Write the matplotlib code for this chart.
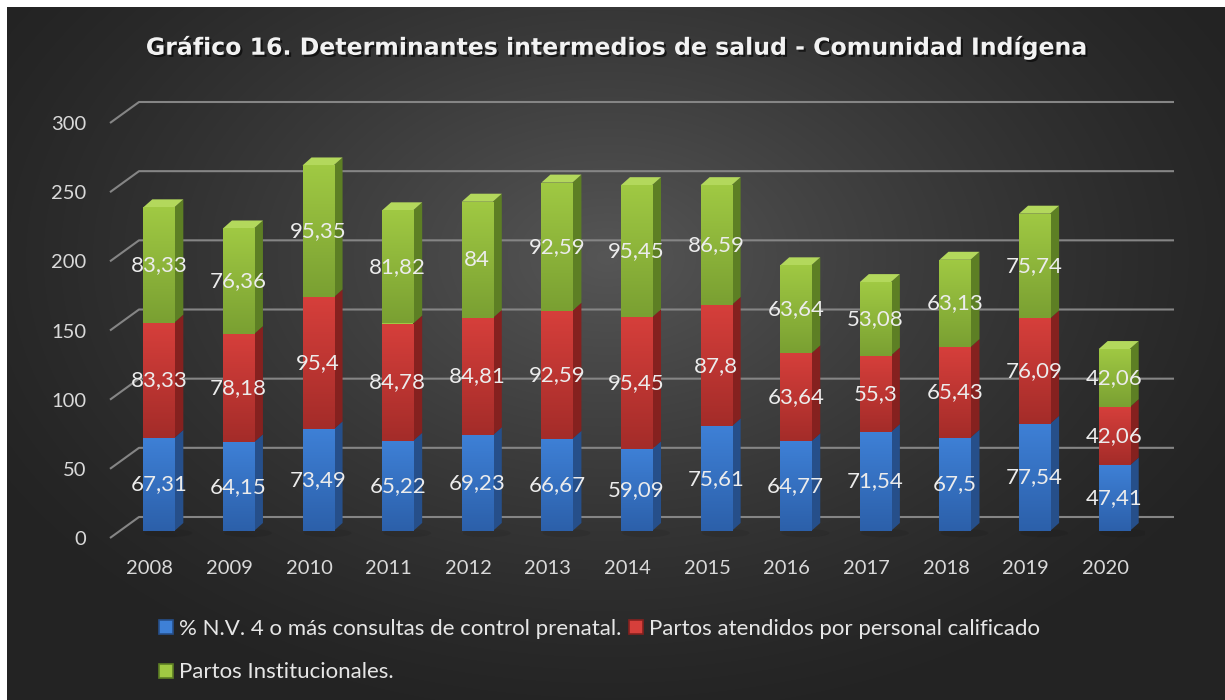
import numpy as np
import matplotlib
matplotlib.use("Agg")
import matplotlib.pyplot as plt
import matplotlib.transforms as mtransforms
import matplotlib.patheffects as pe
from matplotlib.patches import Polygon, Ellipse
from matplotlib.lines import Line2D
from matplotlib.colors import to_rgb

# datos del grafico
years = ['2008', '2009', '2010', '2011', '2012', '2013', '2014',
         '2015', '2016', '2017', '2018', '2019', '2020']
prenatal = [67.31, 64.15, 73.49, 65.22, 69.23, 66.67, 59.09,
            75.61, 64.77, 71.54, 67.5, 77.54, 47.41]
calificado = [83.33, 78.18, 95.4, 84.78, 84.81, 92.59, 95.45,
              87.8, 63.64, 55.3, 65.43, 76.09, 42.06]
institucional = [83.33, 76.36, 95.35, 81.82, 84, 92.59, 95.45,
                 86.59, 63.64, 53.08, 63.13, 75.74, 42.06]
series_names = ['% N.V. 4 o más consultas de control prenatal.',
                'Partos atendidos por personal calificado',
                'Partos Institucionales.']
yticks = [0, 50, 100, 150, 200, 250, 300]

# colores: frente arriba, frente abajo, lateral, tapa
colors = [
    ('#3e80d6', '#2c60aa', '#264f8a', '#5a95df'),
    ('#d63f3b', '#a42c29', '#85211f', '#e05a55'),
    ('#a0c943', '#7aa032', '#5d7f24', '#b3d85c'),
]

plt.rcParams['font.family'] = ['Lato', 'DejaVu Sans']
W, H = 1225, 700
fig = plt.figure(figsize=(W / 100, H / 100), dpi=100, facecolor='white')

# fondo con degradado radial
bg = fig.add_axes([7 / W, 0, (W - 7) / W, (H - 7) / H], zorder=-5)
gx, gy = np.meshgrid(np.arange(W - 7), np.arange(H - 7))
r = np.sqrt(((gx - 600) / 720.0) ** 2 + ((gy - 250) / 480.0) ** 2)
t = np.clip(1 - r, 0, 1) ** 1.3
dark, light = 0x23 / 255, 0x56 / 255
shade = dark + (light - dark) * t
bg.imshow(np.dstack([shade, shade, shade]), aspect='auto', interpolation='bilinear')
bg.axis('off')

# plano frontal del grafico
left_px, right_px, bottom_px, top_px = 110, 1145, 538, 123
ax = fig.add_axes([left_px / W, 1 - bottom_px / H,
                   (right_px - left_px) / W, (bottom_px - top_px) / H])
ax.set_facecolor('none')
n = len(years)
sx = (right_px - left_px) / n          # px por categoria
sy = (bottom_px - top_px) / 300.0      # px por unidad

# rejilla en la pared del fondo
back_dx, back_dy = 29 / sx, 21 / sy
for v in yticks:
    ax.plot([-0.5, -0.5 + back_dx, n - 0.5 + back_dx], [v, v + back_dy, v + back_dy],
            color='#858585', lw=1.5, clip_on=False, zorder=1, solid_capstyle='butt')

# barras apiladas con efecto 3D
bar_tr = ax.transData + mtransforms.ScaledTranslation(9 / 100, 7 / 100, fig.dpi_scale_trans)
width = 0.39
ddx, ddy = 9 / sx, 8 / sy
x = np.arange(n)
bottoms = np.zeros(n)

for i in range(n):
    ax.add_patch(Ellipse((i + 0.12, -1.5), 0.6, 6, color='black', alpha=0.08,
                         lw=0, zorder=1.5, transform=bar_tr))

for s, vals in enumerate([prenatal, calificado, institucional]):
    vals = np.array(vals)
    c_top, c_bot, c_side, c_cap = colors[s]
    bars = ax.bar(x, vals, width, bottom=bottoms, color=c_top, lw=0,
                  zorder=3, transform=bar_tr)
    grad = np.linspace(to_rgb(c_top), to_rgb(c_bot), 64)[:, None, :]
    for i, rect in enumerate(bars):
        xl, xr = x[i] - width / 2, x[i] + width / 2
        b, tp = bottoms[i], bottoms[i] + vals[i]
        im = ax.imshow(grad, extent=(xl, xr, b, tp), aspect='auto',
                       interpolation='bilinear', zorder=3.1, transform=bar_tr)
        im.set_clip_path(rect)
        ax.add_patch(Polygon([(xr, b), (xr + ddx, b + ddy), (xr + ddx, tp + ddy), (xr, tp)],
                             closed=True, color=c_side, lw=0, zorder=3, transform=bar_tr))
        if s == 2:
            ax.add_patch(Polygon([(xl, tp), (xl + ddx, tp + ddy), (xr + ddx, tp + ddy), (xr, tp)],
                                 closed=True, color=c_cap, lw=0, zorder=3, transform=bar_tr))
        ax.text(x[i], b + vals[i] / 2, f'{vals[i]:g}'.replace('.', ','),
                ha='center', va='center', fontsize=16, color='#ececec',
                zorder=5, transform=bar_tr)
    bottoms = bottoms + vals

ax.set_xlim(-0.5, n - 0.5)
ax.set_ylim(0, 300)
ax.set_xticks(x)
ax.set_xticklabels(years)
ax.set_yticks(yticks)
ax.tick_params(length=0, labelsize=14.5, colors='#d9d9d9')
ax.tick_params(axis='y', pad=17)
ax.tick_params(axis='x', pad=16)
for sp in ax.spines.values():
    sp.set_visible(False)

# titulo
fig.text(617 / W, 1 - 47 / H,
         'Gráfico 16. Determinantes intermedios de salud - Comunidad Indígena',
         ha='center', va='center', fontsize=17, fontweight='bold',
         family=['DejaVu Sans'], color='#f2f2f2',
         path_effects=[pe.withSimplePatchShadow(offset=(1.5, -1.5), shadow_rgbFace='black', alpha=0.6)])

# leyenda (orden para que queden dos en la primera fila)
handles = [Line2D([], [], ls='', marker='s', markersize=9.5,
                  markerfacecolor=colors[k][0], markeredgecolor=colors[k][2], markeredgewidth=1.2)
           for k in range(3)]
order = [0, 2, 1]
fig.legend([handles[k] for k in order], [series_names[k] for k in order],
           ncol=2, loc='upper left', bbox_to_anchor=(158 / W, 1 - 619 / H),
           frameon=False, fontsize=16, labelcolor='#e6e6e6',
           handlelength=0.7, handletextpad=0.25, columnspacing=0.3,
           labelspacing=1.05, borderpad=0, borderaxespad=0)

fig.savefig('out.png', dpi=100, facecolor=fig.get_facecolor())
